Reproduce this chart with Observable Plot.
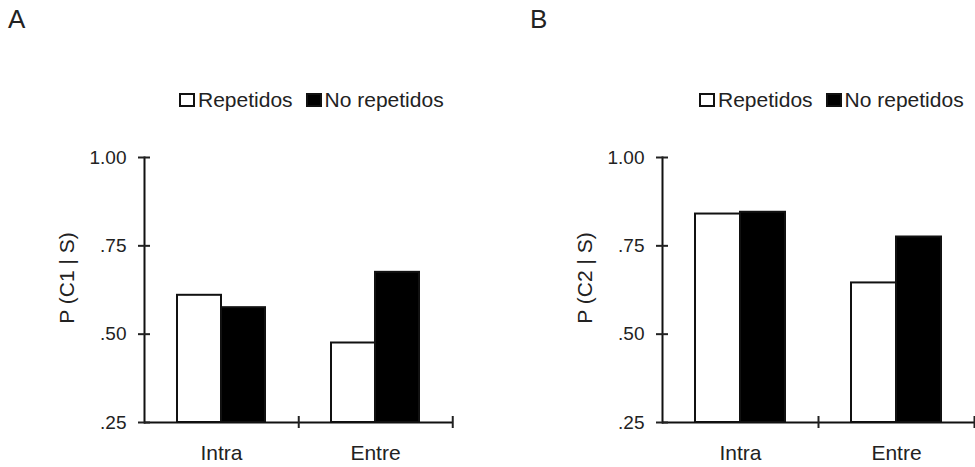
<!DOCTYPE html>
<html><head><meta charset="utf-8">
<script src="https://cdn.jsdelivr.net/npm/d3@7"></script>
<script src="https://cdn.jsdelivr.net/npm/@observablehq/plot@0.6"></script>
<style>
body{margin:0;background:#fff;width:975px;height:467px;overflow:hidden;position:relative;font-family:Arial,"Liberation Sans",sans-serif;color:#222}
.panel{position:absolute;top:0}
.letter{position:absolute;font-size:26px;line-height:26px;top:6px}
.legend{position:absolute;top:89px;display:flex;align-items:center;font-size:21px;line-height:21px;white-space:nowrap}
.sw{width:16px;height:14px;box-sizing:border-box;border:2px solid #111;display:inline-block}
</style></head><body>
<script>
const categories = ["Intra", "Entre"];
const series = ["Repetidos", "No repetidos"];
const seriesFill = ["white", "black"];
const c1Repetidos = [0.61, 0.475];
const c1NoRepetidos = [0.575, 0.675];
const c2Repetidos = [0.84, 0.645];
const c2NoRepetidos = [0.845, 0.775];
const yTicks = [0.25, 0.5, 0.75, 1];
const yTickLabels = [".25", ".50", ".75", "1.00"];
const panelLetters = ["A", "B"];
const yLabels = ["P (C1 | S)", "P (C2 | S)"];

function panel({rep, norep, yLabel, width, marginLeft, marginRight}) {
  const rows = categories.flatMap((c, i) => [
    {cat: c, series: series[0], value: rep[i]},
    {cat: c, series: series[1], value: norep[i]}
  ]);
  const cellW = (width - marginLeft - marginRight) / categories.length;
  return Plot.plot({
    width, height: 467, marginLeft, marginRight, marginTop: 157, marginBottom: 45,
    style: {fontFamily: 'Arial, "Liberation Sans", sans-serif', color: "#222", background: "transparent", overflow: "visible"},
    fx: {domain: categories, padding: 0},
    x: {domain: series, paddingInner: 0, paddingOuter: 0.73, axis: null},
    y: {domain: [0.25, 1]},
    color: {domain: series, range: seriesFill},
    marks: [
      Plot.barY(rows, {fx: "cat", x: "series", y1: 0.25, y2: "value", fill: "series", stroke: "#111", strokeWidth: 2}),
      Plot.ruleY([0.25], {stroke: "#111", strokeWidth: 2}),
      Plot.frame({anchor: "left", stroke: "#111", strokeWidth: 2, facet: "super"}),
      Plot.axisY({ticks: yTicks, tickFormat: d => yTickLabels[yTicks.indexOf(d)], tickSize: 12, dx: 6, tickPadding: 12, fontSize: 19, strokeWidth: 2, label: null}),
      Plot.axisFx({anchor: "bottom", tickSize: 0, tickPadding: 23, fontSize: 21, label: null}),
      Plot.axisFx({anchor: "bottom", tickSize: 12, dy: -6, dx: cellW / 2, tickFormat: () => "", strokeWidth: 2, label: null}),
      Plot.text([yLabel], {text: d => d, frameAnchor: "left", textAnchor: "middle", rotate: -90, dx: -77, dy: -12, fontSize: 21, fill: "#222", facet: "super"})
    ]
  });
}

function legend(left) {
  const el = document.createElement("div");
  el.className = "legend";
  el.style.left = left + "px";
  series.forEach((s, i) => {
    const sw = document.createElement("span");
    sw.className = "sw";
    sw.style.background = seriesFill[i];
    if (i > 0) sw.style.marginLeft = "13px";
    const t = document.createElement("span");
    t.textContent = s;
    t.style.marginLeft = "3px";
    el.append(sw, t);
  });
  return el;
}

const configs = [
  {left: 0, rep: c1Repetidos, norep: c1NoRepetidos, yLabel: yLabels[0], width: 487, marginLeft: 143, marginRight: 35, legendLeft: 179, letterLeft: 8},
  {left: 487, rep: c2Repetidos, norep: c2NoRepetidos, yLabel: yLabels[1], width: 488, marginLeft: 175, marginRight: 1, legendLeft: 699, letterLeft: 530}
];

configs.forEach((cfg, i) => {
  const wrap = document.createElement("div");
  wrap.className = "panel";
  wrap.style.left = cfg.left + "px";
  wrap.append(panel(cfg));
  document.body.append(wrap);
  const letter = document.createElement("div");
  letter.className = "letter";
  letter.style.left = cfg.letterLeft + "px";
  letter.textContent = panelLetters[i];
  document.body.append(letter);
  document.body.append(legend(cfg.legendLeft));
});
</script>
</body></html>
